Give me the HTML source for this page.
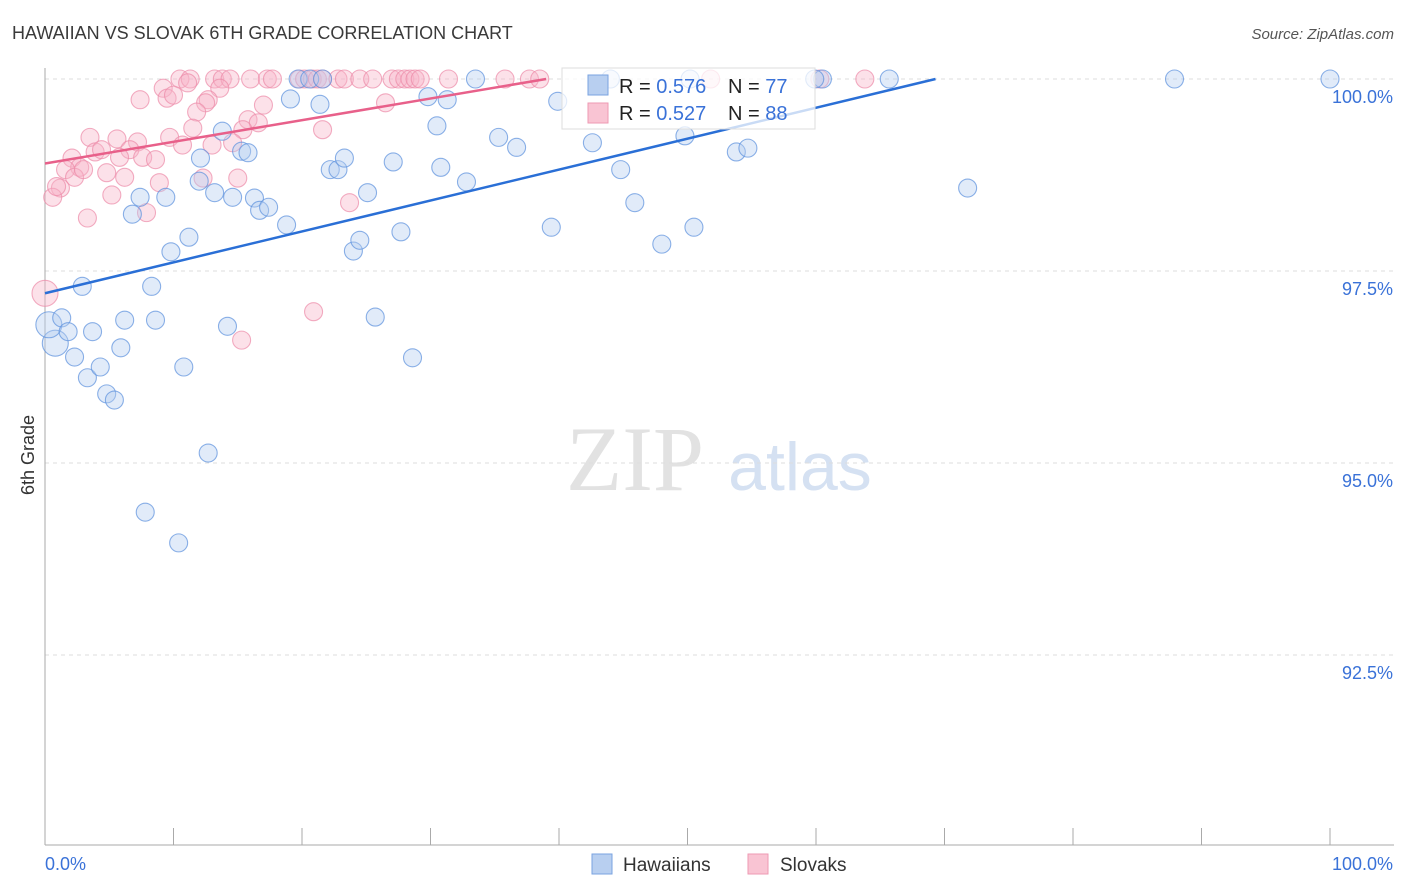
<!DOCTYPE html>
<html><head><meta charset="utf-8"><style>
body{margin:0;background:#fff;font-family:"Liberation Sans",sans-serif;}
svg{display:block}
</style></head><body>
<svg id="chart" width="1406" height="892">
<text x="12" y="39" font-size="18" fill="#3a3a3a">HAWAIIAN VS SLOVAK 6TH GRADE CORRELATION CHART</text>
<text x="1394" y="39" font-size="15" fill="#555" text-anchor="end" font-style="italic">Source: ZipAtlas.com</text>
<text x="635" y="490" font-size="92" fill="#e2e2e2" font-family="Liberation Serif,serif" text-anchor="middle">ZIP</text>
<text x="800" y="490" font-size="68" fill="#d5e1f2" text-anchor="middle">atlas</text>
<text transform="translate(34,455) rotate(-90)" font-size="18" fill="#333" text-anchor="middle">6th Grade</text>
<g id="grid"></g><g id="pts"></g><g id="lines"></g>
<g>
<rect x="562" y="68" width="253" height="61" fill="rgba(255,255,255,0.75)" stroke="#ddd"/>
<rect x="588" y="75" width="20" height="20" fill="#b8cff0" stroke="#7aa3e0"/>
<rect x="588" y="103" width="20" height="20" fill="#f9c4d3" stroke="#ee9ab3"/>
<text x="619" y="93" font-size="20" fill="#222">R = <tspan fill="#3a72d8">0.576</tspan><tspan x="728">N = </tspan><tspan fill="#3a72d8">77</tspan></text>
<text x="619" y="120" font-size="20" fill="#222">R = <tspan fill="#3a72d8">0.527</tspan><tspan x="728">N = </tspan><tspan fill="#3a72d8">88</tspan></text>
</g>
<g>
<rect x="592" y="854" width="20" height="20" fill="#b8cff0" stroke="#7aa3e0"/>
<text x="623" y="871" font-size="19" fill="#333">Hawaiians</text>
<rect x="748" y="854" width="20" height="20" fill="#f9c4d3" stroke="#ee9ab3"/>
<text x="780" y="871" font-size="19" fill="#333">Slovaks</text>
</g>
</svg>
<script>
const yTicks=[100,97.5,95,92.5];
const yTickLabels=["100.0%","97.5%","95.0%","92.5%"];
const xEndLabels=["0.0%","100.0%"];
const blueX=[0.8,0.3,1.3,1.8,2.9,2.3,3.3,4.3,3.7,4.8,5.4,5.9,6.2,6.8,7.4,7.8,8.3,8.6,9.4,9.8,10.4,10.8,11.2,12.0,12.1,12.7,13.2,13.8,14.2,14.6,15.3,15.8,16.3,16.7,17.4,18.8,19.1,19.7,20.6,21.4,21.6,22.2,22.8,23.3,24.0,24.5,25.1,25.7,27.1,27.7,28.6,29.8,30.5,30.8,31.3,32.8,33.5,35.3,36.7,39.4,39.9,42.6,44.8,45.9,48.0,49.8,50.5,53.8,54.7,60.5,65.7,71.8,87.9,100,44.0,50.2,59.9];
const blueY=[96.56,96.80,96.89,96.71,97.30,96.38,96.11,96.25,96.71,95.90,95.82,96.50,96.86,98.24,98.46,94.36,97.30,96.86,98.46,97.75,93.96,96.25,97.94,98.67,98.97,95.13,98.52,99.32,96.78,98.46,99.06,99.04,98.45,98.29,98.33,98.10,99.74,100,100,99.67,100,98.82,98.82,98.97,97.76,97.90,98.52,96.90,98.92,98.01,96.37,99.77,99.39,98.85,99.73,98.66,100,99.24,99.11,98.07,99.71,99.17,98.82,98.39,97.85,99.26,98.07,99.05,99.10,100,100,98.58,100,100,100,100,100];
const pinkX=[10.5,11.3,13.2,13.8,14.4,16.0,17.3,17.7,19.8,20.2,20.8,21.2,21.6,22.8,23.3,24.5,25.5,27.0,27.5,28.0,28.4,28.8,29.2,31.4,35.8,37.7,38.5,51.8,60.3,63.8,7.4,9.2,9.5,10.0,11.1,13.6,12.7,12.5,11.8,17.0,26.5,21.6,15.8,16.6,15.4,11.5,9.7,10.7,13.0,14.6,3.5,5.6,7.2,3.9,4.4,6.6,5.8,7.6,8.6,2.1,2.7,1.6,2.3,4.8,6.2,12.3,15.0,8.9,1.2,0.6,5.2,7.9,3.3,23.7,20.9,15.3,0,0.9,3.0];
const pinkY=[100,100,100,100,100,100,100,100,100,100,100,100,100,100,100,100,100,100,100,100,100,100,100,100,100,100,100,100,100,100,99.73,99.88,99.75,99.79,99.95,99.88,99.73,99.69,99.57,99.66,99.69,99.34,99.47,99.43,99.34,99.36,99.24,99.14,99.14,99.17,99.24,99.22,99.18,99.05,99.08,99.08,98.98,98.98,98.95,98.97,98.85,98.82,98.72,98.78,98.72,98.71,98.71,98.65,98.58,98.46,98.49,98.26,98.19,98.39,96.97,96.60,97.21,98.6,98.82];
const blueTrend=[[0,97.21],[69.3,100]];
const pinkTrend=[[0,98.90],[39,100]];
const NS="http://www.w3.org/2000/svg";
const X=v=>45+v*12.85, Y=v=>79+(100-v)*76.8;
function mk(t,a,p){const e=document.createElementNS(NS,t);for(const k in a)e.setAttribute(k,a[k]);p.appendChild(e);return e;}
const grid=document.getElementById('grid');
yTicks.forEach((t,i)=>{
 const l=mk('line',{x1:45,x2:1394,y1:Y(t),y2:Y(t),stroke:'#ddd','stroke-dasharray':'4,4'},grid);
 
 
 const tx=mk('text',{x:1393,y:Y(t)+24,'font-size':18,fill:'#3a72d8','text-anchor':'end'},grid);
 tx.textContent=yTickLabels[i];
 
 
});
const ax=mk('line',{x1:45,x2:45,y1:68,y2:845,stroke:'#aaa'},grid);


const bx=mk('line',{x1:45,x2:1394,y1:845,y2:845,stroke:'#aaa'},grid);


for(let i=0;i<=10;i++){const t=mk('line',{x1:X(i*10),x2:X(i*10),y1:828,y2:845,stroke:'#aaa'},grid);
 
 }
[[0,'start'],[100,'end']].forEach((d,i)=>{const t=mk('text',{x:X(d[0])+(i?63:0),y:870,'font-size':18,fill:'#3a72d8','text-anchor':d[1]},grid);t.textContent=xEndLabels[i];
 
 });
const pts=document.getElementById('pts');
function dots(xs,ys,fill,stroke,name){xs.forEach((x,i)=>{const big=x<1.0&&(ys[i]<97.3);
 const c=mk('circle',{cx:X(x),cy:Y(ys[i]),r:big?13:9,fill:fill,'fill-opacity':0.4,stroke:stroke,'stroke-width':1.1,'stroke-opacity':0.7},pts);
 
 });}
dots(pinkX,pinkY,'#f7b5c8','#ec8aa8','slovak-point');
dots(blueX,blueY,'#b3cdf0','#5b90dd','hawaiian-point');
const lg=document.getElementById('lines');
const bl=mk('line',{x1:X(blueTrend[0][0]),y1:Y(blueTrend[0][1]),x2:X(blueTrend[1][0]),y2:Y(blueTrend[1][1]),stroke:'#2a6fd6','stroke-width':2.5},lg);


const pl=mk('line',{x1:X(pinkTrend[0][0]),y1:Y(pinkTrend[0][1]),x2:X(pinkTrend[1][0]),y2:Y(pinkTrend[1][1]),stroke:'#e8608a','stroke-width':2.5},lg);


</script>
</body></html>
